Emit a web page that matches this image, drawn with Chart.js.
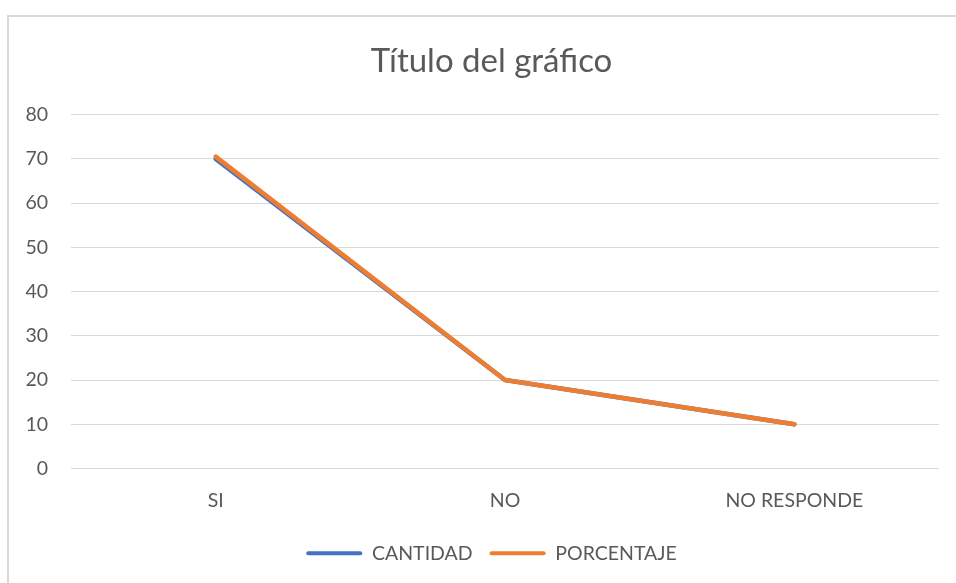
<!DOCTYPE html>
<html>
<head>
<meta charset="utf-8">
<script src="https://cdn.jsdelivr.net/npm/chart.js@4/dist/chart.umd.min.js"></script>
<style>
html,body{margin:0;padding:0;background:#fff;overflow:hidden;}
#frame{position:absolute;left:7px;top:15px;width:980px;height:620px;border:2px solid #d9d9d9;box-sizing:border-box;}
#wrap{position:absolute;left:0;top:0;width:956px;height:583px;}
</style>
</head>
<body>
<div id="frame"></div>
<div id="wrap"><canvas id="c" width="956" height="583"></canvas></div>
<script>
const categories = ["SI", "NO", "NO RESPONDE"];
const cantidad = [70, 20, 10];
const porcentaje = [70.5, 20, 10];
const yTicks = [0, 10, 20, 30, 40, 50, 60, 70, 80];
const titleText = "Título del gráfico";

const FONT = "Lato, 'Open Sans', sans-serif";
const TXT = "#595959";

// shift title and legend horizontally so they are centred like the reference
const shiftBlocks = {
  id: "shiftBlocks",
  afterLayout(chart) {
    const dx = 22;
    [chart.legend, chart.titleBlock].forEach(b => {
      if (b) { b.left += dx; b.right += dx; }
    });
  }
};

new Chart(document.getElementById("c"), {
  type: "line",
  data: {
    labels: categories,
    datasets: [
      {label: "CANTIDAD", data: cantidad, borderColor: "#4472C4", backgroundColor: "#4472C4", order: 1},
      {label: "PORCENTAJE", data: porcentaje, borderColor: "#ED7D31", backgroundColor: "#ED7D31", order: 0}
    ]
  },
  plugins: [shiftBlocks],
  options: {
    responsive: false,
    animation: false,
    devicePixelRatio: 1,
    layout: {padding: {left: 0, right: 17, top: 0, bottom: 10}},
    elements: {
      line: {borderWidth: 4.5, tension: 0, borderCapStyle: "round", borderJoinStyle: "round"},
      point: {radius: 0, hoverRadius: 0}
    },
    plugins: {
      title: {
        display: true, text: titleText, color: TXT,
        font: {family: FONT, size: 33, weight: "normal"},
        padding: {top: 42, bottom: 33}
      },
      legend: {
        position: "bottom",
        labels: {
          color: TXT, font: {family: FONT, size: 19.5},
          boxWidth: 56, boxHeight: 4, padding: 17,
          useBorderRadius: true, borderRadius: 2,
          generateLabels: (chart) => chart.data.datasets.map((d, i) => ({
            text: d.label, fillStyle: d.borderColor, strokeStyle: d.borderColor,
            lineWidth: 0, datasetIndex: i, fontColor: TXT, borderRadius: 2
          }))
        }
      },
      tooltip: {enabled: false}
    },
    scales: {
      x: {
        offset: true,
        grid: {display: false, drawTicks: false},
        border: {display: false},
        ticks: {color: TXT, font: {family: FONT, size: 19.5}, padding: 21},
        afterFit: (s) => { s.height = 58; }
      },
      y: {
        min: 0, max: 80,
        afterBuildTicks: (s) => { s.ticks = yTicks.map(v => ({value: v})); },
        grid: {color: "#d9d9d9", lineWidth: 1, drawTicks: false},
        border: {display: false},
        ticks: {color: TXT, font: {family: FONT, size: 19.5}, padding: 23},
        afterFit: (s) => { s.width = 71; }
      }
    }
  }
});
</script>
</body>
</html>
